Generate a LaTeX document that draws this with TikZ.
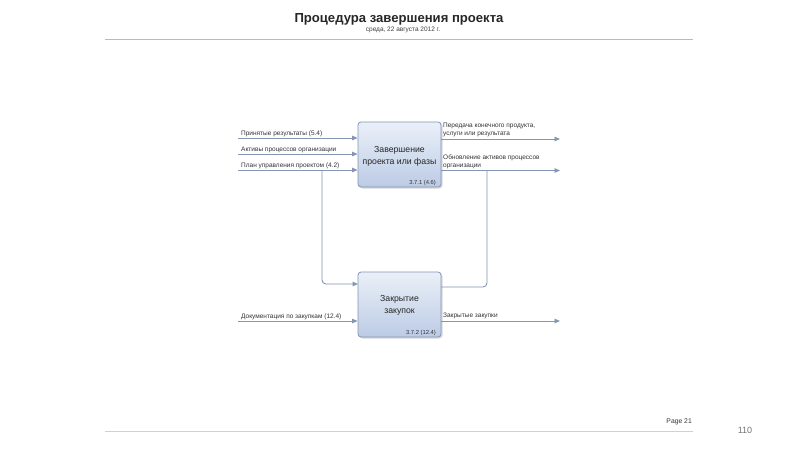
\documentclass[tikz,border=0pt]{standalone}
\usepackage{fontspec}
\setmainfont{Liberation Sans}
\usetikzlibrary{arrows.meta,shadows}
\definecolor{ln}{HTML}{8596B4}
\definecolor{bxtop}{HTML}{EAF0F8}
\definecolor{bxbot}{HTML}{BCCBE5}
\definecolor{bxdraw}{HTML}{8494B4}
\definecolor{hline}{HTML}{A9BCD8}
\definecolor{fline}{HTML}{C9D1DD}
\tikzset{
  procbox/.style={draw=bxdraw, line width=0.8pt, rounded corners=3pt, top color=bxtop, bottom color=bxbot,
    minimum width=83pt, minimum height=65pt, inner sep=0pt,
    drop shadow={shadow xshift=1.5pt, shadow yshift=-1.5pt, opacity=0.25, fill=black!60}},
  boxtext/.style={font=\fontsize{8.7}{12.5}\selectfont, align=center, text=black!85},
  codetext/.style={font=\fontsize{5.8}{6.5}\selectfont, anchor=south east, inner sep=0pt, text=black!80},
  flow/.style={draw=ln, line width=0.9pt, -{Triangle[length=5.5pt,width=4.5pt,fill=ln]}},
  flowplain/.style={draw=ln, line width=0.9pt, rounded corners=4pt},
  lbl/.style={font=\fontsize{6.5}{8}\selectfont, anchor=south west, inner sep=0pt, align=left, text=black!80},
}
\begin{document}
\begin{tikzpicture}[x=1pt,y=-1pt]
\useasboundingbox[fill=white] (0,0) rectangle (800,450);
% header
\node[font=\bfseries\fontsize{13.1}{14}\selectfont, text=black!85] (title) at (399,19) {Процедура завершения проекта};
\node[font=\fontsize{6.5}{7}\selectfont, text=black!75] (date) at (403,30) {среда, 22 августа 2012 г.};
\draw[hline, line width=0.8pt] (105,39) -- (693,39);
% footer
\draw[fline, line width=0.8pt] (105,431) -- (693,431);
\node[font=\fontsize{6.8}{8}\selectfont, anchor=south east, inner sep=0pt, text=black!80] (page) at (692,425) {Page 21};
\node[font=\fontsize{9}{10}\selectfont, text=black!55] (num) at (745,430) {110};
% boxes
\node[procbox] (b1) at (399.5,154.5) {};
\node[boxtext] (b1t) at (399.5,156.5) {Завершение\\проекта или фазы};
\node[codetext] (b1c) at (436,185.5) {3.7.1 (4.6)};
\node[procbox] (b2) at (399.5,304.5) {};
\node[boxtext] (b2t) at (399.5,305.5) {Закрытие\\закупок};
\node[codetext] (b2c) at (436,335.5) {3.7.2 (12.4)};
% coordinates
\coordinate (i1) at (238,138);
\coordinate (i2) at (238,154);
\coordinate (i3) at (238,170);
\coordinate (i4) at (238,321);
\coordinate (o1) at (560,139);
\coordinate (o2) at (560,170.5);
\coordinate (o4) at (560,321);
\coordinate (br) at (322,170);
\coordinate (b2in) at (358,284);
\coordinate (b2out) at (441,287);
\coordinate (mg) at (487,170.5);
% inputs
\draw[flow] (i1) -- (i1 -| b1.west);
\draw[flow] (i2) -- (i2 -| b1.west);
\draw[flow] (i3) -- (i3 -| b1.west);
\draw[flow] (i4) -- (i4 -| b2.west);
\draw[flow, rounded corners=4pt] (br) |- (b2in);
% outputs
\draw[flow] (o1 -| b1.east) -- (o1);
\draw[flow] (o2 -| b1.east) -- (o2);
\draw[flow] (o4 -| b2.east) -- (o4);
\draw[flowplain] (b2out) -| (mg);
% labels
\node[lbl] (l1) at (241,136.8) {Принятые результаты (5.4)};
\node[lbl] (l2) at (241,152.8) {Активы процессов организации};
\node[lbl] (l3) at (241,168.8) {План управления проектом (4.2)};
\node[lbl] (l4) at (241,319.8) {Документация по закупкам (12.4)};
\node[lbl] (l5) at (443,137.5) {Передача конечного продукта,\\услуги или результата};
\node[lbl] (l6) at (443,169) {Обновление активов процессов\\организации};
\node[lbl] (l7) at (443,319.5) {Закрытые закупки};
\end{tikzpicture}
\end{document}
